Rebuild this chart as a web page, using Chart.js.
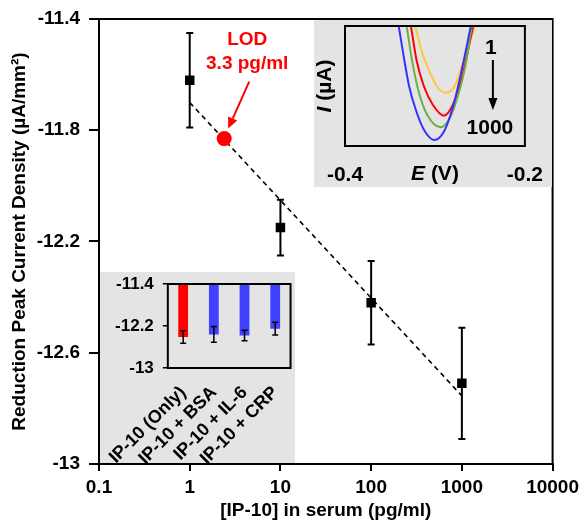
<!DOCTYPE html>
<html>
<head>
<meta charset="utf-8">
<script src="https://cdn.jsdelivr.net/npm/chart.js@4/dist/chart.umd.min.js"></script>
<style>
body { margin: 0; background: #fff; }
#wrap { position: relative; width: 584px; height: 524px; }
#main { position: absolute; left: 0; top: 0; }
.inset { position: absolute; background: #e4e4e4; }
#cvBox { left: 314px; top: 20px; width: 238px; height: 167px; }
#barBox { left: 100px; top: 272px; width: 195px; height: 191px; }
.inset canvas { display: block; }
</style>
</head>
<body>
<div id="wrap">
    <canvas id="main" width="584" height="524"></canvas>
    <div class="inset" id="cvBox"><canvas id="cv" width="238" height="167"></canvas></div>
    <div class="inset" id="barBox"><canvas id="bars" width="195" height="191"></canvas></div>
</div>
<script>
// calibration points
var conc = [1, 10, 100, 1000];
var current = [-11.62, -12.15, -12.42, -12.71];
var currentErr = [0.17, 0.10, 0.15, 0.20];

// linear fit
var fitConc = [1, 1000];
var fitCurrent = [-11.70, -12.755];

var lodConc = 2.4;
var lodCurrent = -11.83;

var xTicks = [0.1, 1, 10, 100, 1000, 10000];
var yTicks = [-13, -12.6, -12.2, -11.8, -11.4];
var yTickLabels = ['-13', '-12.6', '-12.2', '-11.8', '-11.4'];

// voltammograms (inset), 1 -> 1000 pg/ml
var cvYellowE = [-0.3220, -0.3140, -0.3066, -0.2975, -0.2876, -0.2773, -0.2681, -0.2553];
var cvYellowI = [10, 7.72, 6.33, 4.94, 4.44, 5.08, 7.17, 10];
var cvRedE = [-0.3267, -0.3205, -0.3121, -0.3022, -0.2901, -0.2802, -0.2707, -0.2575];
var cvRedI = [10, 7.17, 4.94, 3.42, 2.53, 3.42, 5.5, 10];
var cvGreenE = [-0.3315, -0.3249, -0.3176, -0.3085, -0.2938, -0.2828, -0.2736, -0.2663, -0.2590];
var cvGreenI = [10, 6.89, 4.39, 2.58, 1.56, 2.44, 4.39, 6.61, 10];
var cvBlueE = [-0.3403, -0.3341, -0.3286, -0.3212, -0.3121, -0.3007, -0.2901, -0.2810, -0.2718, -0.2601];
var cvBlueI = [10, 7.17, 4.94, 3.0, 1.33, 0.5, 1.19, 3.0, 5.78, 10];
var cvTicks = [-0.4, -0.2];
var cvTickLabels = ['-0.4', '-0.2'];

// selectivity (inset)
var selLabels = ['IP-10 (Only)', 'IP-10 + BSA', 'IP-10 + IL-6', 'IP-10 + CRP'];
var selValues = [-12.41, -12.36, -12.38, -12.25];
var selErr = [0.12, 0.15, 0.10, 0.12];
var selTicks = [-13, -12.6, -12.2, -11.8, -11.4];
var selTickLabels = ['-13', '', '-12.2', '', '-11.4'];

var FONT = '"Liberation Sans", Arial, sans-serif';
Chart.defaults.font.family = FONT;
Chart.defaults.font.weight = 'bold';
Chart.defaults.color = '#000';
Chart.defaults.animation = false;

var zip = function (xs, ys) {
    return xs.map(function (x, i) { return {x: x, y: ys[i]}; });
};

var setTicks = function (values) {
    return function (scale) {
        scale.ticks = values.map(function (v) { return {value: v}; });
    };
};

// fixed axis width, no extra room for the end labels
var fixWidth = function (w) {
    return function (scale) {
        scale.width = w;
        scale.paddingTop = 0;
        scale.paddingBottom = 0;
    };
};

var drawArrow = function (ctx, x1, y1, x2, y2, head, half) {
    var a = Math.atan2(y2 - y1, x2 - x1);
    var bx = x2 - head * Math.cos(a), by = y2 - head * Math.sin(a);
    ctx.beginPath();
    ctx.moveTo(x1, y1);
    ctx.lineTo(bx, by);
    ctx.stroke();
    ctx.beginPath();
    ctx.moveTo(x2, y2);
    ctx.lineTo(bx + half * Math.sin(a), by - half * Math.cos(a));
    ctx.lineTo(bx - half * Math.sin(a), by + half * Math.cos(a));
    ctx.closePath();
    ctx.fill();
};

var frame = {
    id: 'frame',
    afterDatasetsDraw: function (chart) {
        var a = chart.chartArea, ctx = chart.ctx;
        ctx.save();
        ctx.strokeStyle = '#000';
        ctx.lineWidth = 2;
        ctx.strokeRect(a.left, a.top, a.right - a.left, a.bottom - a.top);
        ctx.restore();
    }
};

var errorBars = {
    id: 'errorBars',
    beforeDatasetsDraw: function (chart) {
        var x = chart.scales.x, y = chart.scales.y, ctx = chart.ctx;
        ctx.save();
        ctx.strokeStyle = '#000';
        ctx.lineWidth = 2;
        conc.forEach(function (c, i) {
            var px = x.getPixelForValue(c);
            var top = y.getPixelForValue(current[i] + currentErr[i]);
            var bot = y.getPixelForValue(current[i] - currentErr[i]);
            ctx.beginPath();
            ctx.moveTo(px, top); ctx.lineTo(px, bot);
            ctx.moveTo(px - 3.5, top); ctx.lineTo(px + 3.5, top);
            ctx.moveTo(px - 3.5, bot); ctx.lineTo(px + 3.5, bot);
            ctx.stroke();
        });
        ctx.restore();
    }
};

var lodNote = {
    id: 'lodNote',
    afterDatasetsDraw: function (chart) {
        var p = chart.getDatasetMeta(2).data[0], ctx = chart.ctx;
        ctx.save();
        ctx.fillStyle = '#ff0000';
        ctx.strokeStyle = '#ff0000';
        ctx.font = 'bold 19px ' + FONT;
        ctx.textAlign = 'center';
        ctx.textBaseline = 'middle';
        ctx.fillText('LOD', p.x + 23, p.y - 99);
        ctx.fillText('3.3 pg/ml', p.x + 23, p.y - 75);
        ctx.lineWidth = 2;
        drawArrow(ctx, p.x + 25, p.y - 57, p.x + 4, p.y - 10, 11, 5);
        ctx.restore();
    }
};

new Chart(document.getElementById('main'), {
    type: 'scatter',
    data: {
        datasets: [{
            data: zip(fitConc, fitCurrent),
            showLine: true,
            borderColor: '#000',
            borderWidth: 1.6,
            borderDash: [5, 4],
            pointRadius: 0,
            order: 3
        }, {
            data: zip(conc, current),
            pointStyle: 'rect',
            pointRadius: 6.7,
            backgroundColor: '#000',
            borderWidth: 0,
            order: 1
        }, {
            data: [{x: lodConc, y: lodCurrent}],
            pointRadius: 7.5,
            backgroundColor: '#ff0000',
            borderWidth: 0,
            order: 0
        }]
    },
    options: {
        responsive: false,
        layout: {padding: {left: 4, right: 31, top: 19, bottom: 0}},
        plugins: {legend: {display: false}, tooltip: {enabled: false}},
        scales: {
            x: {
                type: 'logarithmic',
                min: 0.1,
                max: 10000,
                afterBuildTicks: setTicks(xTicks),
                afterFit: function (s) { s.height = 60; },
                ticks: {
                    font: {size: 19, weight: 'bold'},
                    padding: 5,
                    autoSkip: false,
                    maxRotation: 0,
                    callback: function (v) { return String(v); }
                },
                grid: {display: true, drawOnChartArea: false, tickLength: 7, color: '#000', lineWidth: 2},
                border: {display: true, color: '#000', width: 2},
                title: {display: true, text: '[IP-10] in serum (pg/ml)', font: {size: 19, weight: 'bold'}, padding: {top: 0, bottom: 2}}
            },
            y: {
                min: -13,
                max: -11.4,
                afterBuildTicks: setTicks(yTicks),
                afterFit: fixWidth(95),
                ticks: {
                    font: {size: 19, weight: 'bold'},
                    padding: 9,
                    callback: function (v, i) { return yTickLabels[i]; }
                },
                grid: {display: true, drawOnChartArea: false, tickLength: 10, color: '#000', lineWidth: 2},
                border: {display: true, color: '#000', width: 2},
                title: {display: true, text: 'Reduction Peak Current Density (µA/mm²)', font: {size: 19, weight: 'bold'}, padding: {top: 4, bottom: 0}}
            }
        }
    },
    plugins: [errorBars, frame, lodNote]
});

// ---- inset: voltammograms ----
var curve = function (es, is, color) {
    return {
        data: zip(es, is),
        showLine: true,
        borderColor: color,
        borderWidth: 2,
        pointRadius: 0,
        cubicInterpolationMode: 'monotone'
    };
};

var cvNote = {
    id: 'cvNote',
    afterDraw: function (chart) {
        var a = chart.chartArea, ctx = chart.ctx;
        var fi = 'italic bold 21px ' + FONT, fn = 'bold 21px ' + FONT;
        ctx.save();
        ctx.fillStyle = '#000';
        ctx.strokeStyle = '#000';
        ctx.textBaseline = 'middle';

        // E (V)
        ctx.font = fi;
        var w1 = ctx.measureText('E').width;
        ctx.font = fn;
        var w2 = ctx.measureText(' (V)').width;
        var sx = (a.left + a.right) / 2 - (w1 + w2) / 2, ty = a.bottom + 28;
        ctx.textAlign = 'left';
        ctx.font = fi; ctx.fillText('E', sx, ty);
        ctx.font = fn; ctx.fillText(' (V)', sx + w1, ty);

        // I (µA)
        ctx.save();
        ctx.translate(11, (a.top + a.bottom) / 2);
        ctx.rotate(-Math.PI / 2);
        ctx.font = fi;
        w1 = ctx.measureText('I').width;
        ctx.font = fn;
        w2 = ctx.measureText(' (µA)').width;
        sx = -(w1 + w2) / 2;
        ctx.font = fi; ctx.fillText('I', sx, 0);
        ctx.font = fn; ctx.fillText(' (µA)', sx + w1, 0);
        ctx.restore();

        // 1 -> 1000
        ctx.textAlign = 'center';
        ctx.font = fn;
        ctx.fillText('1', a.right - 34, a.top + 22);
        ctx.fillText('1000', a.right - 35, a.top + 102);
        ctx.lineWidth = 2;
        drawArrow(ctx, a.right - 32, a.top + 34, a.right - 32, a.top + 84, 12, 4.5);
        ctx.restore();
    }
};

new Chart(document.getElementById('cv'), {
    type: 'scatter',
    data: {
        datasets: [
            curve(cvBlueE, cvBlueI, '#3333ff'),
            curve(cvGreenE, cvGreenI, '#70ad47'),
            curve(cvRedE, cvRedI, '#ff0000'),
            curve(cvYellowE, cvYellowI, '#ffc83c')
        ]
    },
    options: {
        responsive: false,
        layout: {padding: {left: 0, right: 25, top: 6, bottom: 0}},
        plugins: {legend: {display: false}, tooltip: {enabled: false}},
        scales: {
            x: {
                min: -0.4,
                max: -0.2,
                afterBuildTicks: setTicks(cvTicks),
                afterFit: function (s) { s.height = 41; },
                ticks: {
                    font: {size: 21, weight: 'bold'},
                    padding: 9,
                    maxRotation: 0,
                    callback: function (v, i) { return cvTickLabels[i]; }
                },
                grid: {display: false},
                border: {display: false}
            },
            y: {
                min: 0,
                max: 10,
                afterFit: fixWidth(31),
                ticks: {display: false},
                grid: {display: false},
                border: {display: false}
            }
        }
    },
    plugins: [frame, cvNote]
});

// ---- inset: selectivity bars ----
var selBars = {
    id: 'selBars',
    afterDatasetsDraw: function (chart) {
        var y = chart.scales.y, ctx = chart.ctx;
        var bars = chart.getDatasetMeta(0).data;
        ctx.save();
        ctx.strokeStyle = '#000';
        ctx.lineWidth = 1.5;
        selValues.forEach(function (v, i) {
            var px = bars[i].x;
            var top = y.getPixelForValue(v + selErr[i]);
            var bot = y.getPixelForValue(v - selErr[i]);
            ctx.beginPath();
            ctx.moveTo(px, top); ctx.lineTo(px, bot);
            ctx.moveTo(px - 3, top); ctx.lineTo(px + 3, top);
            ctx.moveTo(px - 3, bot); ctx.lineTo(px + 3, bot);
            ctx.stroke();
        });
        ctx.restore();
    }
};

new Chart(document.getElementById('bars'), {
    type: 'bar',
    data: {
        labels: selLabels,
        datasets: [{
            data: selValues.map(function (v) { return [-11.4, v]; }),
            backgroundColor: ['#ff0000', '#4040ff', '#4040ff', '#4040ff'],
            barPercentage: 0.32,
            categoryPercentage: 1
        }]
    },
    options: {
        responsive: false,
        layout: {padding: {left: 0, right: 2, top: 12, bottom: 0}},
        plugins: {legend: {display: false}, tooltip: {enabled: false}},
        scales: {
            x: {
                afterFit: function (s) { s.height = 95; },
                ticks: {
                    font: {size: 18, weight: 'bold'},
                    minRotation: 45,
                    maxRotation: 45,
                    autoSkip: false,
                    padding: 6
                },
                grid: {display: false},
                border: {display: false}
            },
            y: {
                min: -13,
                max: -11.4,
                afterBuildTicks: setTicks(selTicks),
                afterFit: fixWidth(54),
                ticks: {
                    font: {size: 17, weight: 'bold'},
                    padding: 9,
                    callback: function (v, i) { return selTickLabels[i]; }
                },
                grid: {display: true, drawOnChartArea: false, tickLength: 5, color: '#000', lineWidth: 1.5},
                border: {display: false}
            }
        }
    },
    plugins: [frame, selBars]
});
</script>
</body>
</html>
